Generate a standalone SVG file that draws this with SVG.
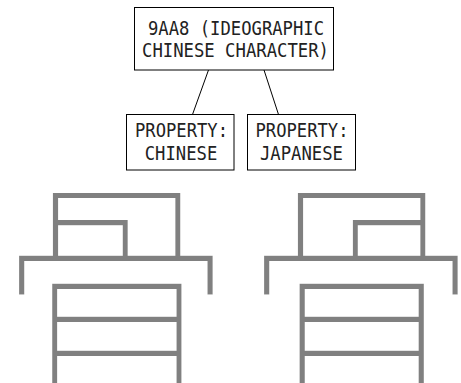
<svg xmlns="http://www.w3.org/2000/svg" width="461" height="383" viewBox="0 0 461 383">
<style>
.box{fill:#fff;stroke:#000;stroke-width:1}
.lbl{font-family:"DejaVu Sans Mono","Liberation Mono",monospace;font-size:19px;fill:#222;text-anchor:middle}
.conn{stroke:#000;stroke-width:1;fill:none}
.big{font-size:240px;fill:#808080;text-anchor:middle;font-weight:100;stroke:#fff;stroke-width:2;paint-order:fill}
</style>
<rect width="461" height="383" fill="#fff"/>
<g id="connectors">
<line class="conn" x1="208.5" y1="70" x2="192.5" y2="114.5"/>
<line class="conn" x1="264" y1="70" x2="278.5" y2="114.5"/>
</g>
<g id="root">
<rect class="box" x="134.5" y="7.5" width="199" height="62.5"/>
<text class="lbl" x="236" y="34.5" textLength="176" lengthAdjust="spacingAndGlyphs">9AA8 (IDEOGRAPHIC</text>
<text class="lbl" x="235.5" y="56.5" textLength="187" lengthAdjust="spacingAndGlyphs">CHINESE CHARACTER)</text>
</g>
<g id="chinese">
<rect class="box" x="126.5" y="114.5" width="107.5" height="55.5"/>
<text class="lbl" x="181.5" y="136.5" textLength="93" lengthAdjust="spacingAndGlyphs">PROPERTY:</text>
<text class="lbl" x="181" y="160" textLength="72.5" lengthAdjust="spacingAndGlyphs">CHINESE</text>
</g>
<g id="japanese">
<rect class="box" x="247.5" y="114.5" width="108" height="55.5"/>
<text class="lbl" x="302" y="136.5" textLength="93" lengthAdjust="spacingAndGlyphs">PROPERTY:</text>
<text class="lbl" x="301.5" y="160" textLength="83" lengthAdjust="spacingAndGlyphs">JAPANESE</text>
</g>
<g id="glyph-chinese">
<text class="big" x="116" y="380" xml:lang="zh-CN" font-family="'Noto Sans CJK SC Thin','Noto Sans CJK SC Light','Noto Sans CJK SC', sans-serif">骨</text>
</g>
<g id="glyph-japanese">
<text class="big" x="361" y="380" xml:lang="ja" font-family="'Noto Sans CJK JP Thin','Noto Sans CJK JP Light','Noto Sans CJK JP', sans-serif">骨</text>
</g>
</svg>
